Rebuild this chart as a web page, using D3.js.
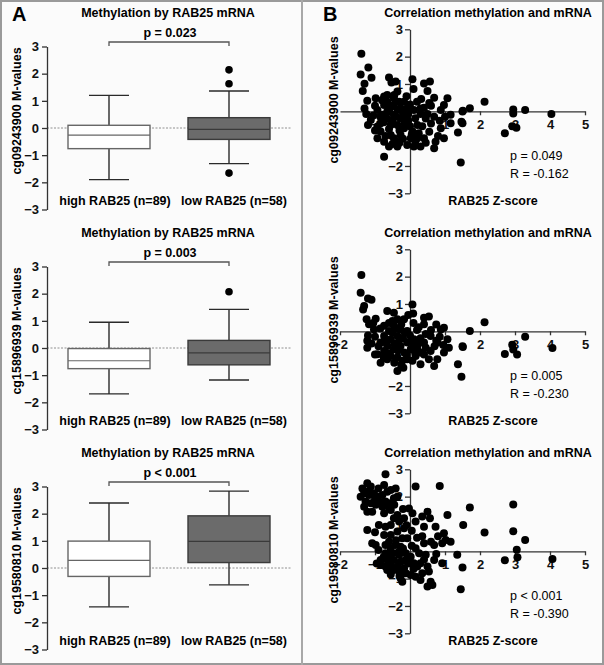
<!DOCTYPE html>
<html>
<head>
<meta charset="utf-8">
<script src="https://cdn.jsdelivr.net/npm/d3@7"></script>
<style>
  body { margin: 0; background: #fff; }
  svg text { font-family: "Liberation Sans", Arial, sans-serif; }
</style>
</head>
<body>
<div id="chart"></div>
<script>
// --- data ---
const groups = ["high RAB25 (n=89)", "low RAB25 (n=58)"];
const probes = ["cg09243900", "cg15896939", "cg19580810"];
const pTexts = ["p = 0.023", "p = 0.003", "p < 0.001"];
const corrP = ["p = 0.049", "p = 0.005", "p < 0.001"];
const corrR = ["R = -0.162", "R = -0.230", "R = -0.390"];

// [min, q1, median, q3, max] for high / low per probe
const boxHigh = [
  [-1.90, -0.76, -0.26, 0.10, 1.20],
  [-1.69, -0.76, -0.47, -0.02, 0.95],
  [-1.43, -0.31, 0.28, 0.99, 2.39]
];
const boxLow = [
  [-1.31, -0.42, -0.05, 0.38, 1.36],
  [-1.18, -0.62, -0.18, 0.28, 1.42],
  [-0.62, 0.20, 0.98, 1.92, 2.83]
];
const outliersLow = [[2.14, 1.63, -1.66], [2.07], []];

const yTicksBox = [-3, -2, -1, 0, 1, 2, 3];
const yTicksScatter = [-3, -2, -1, 1, 2, 3];
const xTicksFirst = [-1, 1, 2, 3, 4, 5];
const xTicks = [-2, -1, 1, 2, 3, 4, 5];

// RAB25 Z-score, M-value
const scatter1 = [
  [-1.39,2.11],[-1.19,1.60],[-1.41,1.35],[-1.10,1.23],[-1.30,1.01],[-1.35,0.74],[-0.60,1.24],[-0.53,1.05],
  [-0.41,1.09],[-0.36,0.72],[0.07,1.17],[0.10,0.82],[0.40,1.02],[0.57,1.09],[0.50,0.74],[0.69,0.50],
  [0.32,0.45],[1.07,0.48],[0.97,0.23],[0.88,0.05],[1.50,-0.01],[1.71,0.11],[1.47,-0.38],[1.37,-0.78],
  [1.45,-1.87],[-0.74,-1.66],[-1.22,0.39],[-0.98,0.48],[-0.74,0.54],[-1.12,-0.32],[-1.20,-0.50],[-0.93,-0.99],
  [-0.60,-1.29],[-0.36,-1.29],[0.30,-1.29],[0.69,-1.35],[0.73,-1.11],[0.97,-0.99],[0.88,-0.62],[1.16,-0.44],
  [1.16,-0.13],[0.40,-0.99],[0.21,-0.50],[0.45,-0.26],[0.69,-0.20],[0.11,0.05],[0.40,0.13],[-0.17,0.35],
  [-0.08,0.11],[-0.65,0.35],[-0.46,0.23],[-0.65,-0.01],[-0.46,-0.13],[-0.27,-0.26],[-0.55,-0.50],[-0.36,-0.50],
  [-0.17,-0.62],[-0.84,-0.74],[-0.55,-0.87],[-0.27,-0.87],[0.02,-0.99],[-0.74,-1.11],[-0.46,-0.99],[-0.08,-1.23],
  [-0.65,-0.26],[-0.79,-0.13],[-0.93,0.05],[-0.27,0.11],[-0.12,-0.26],[0.07,-0.74],[0.21,-0.99],[0.11,-1.29],
  [-0.93,-0.56],[-0.46,0.48],[-0.31,0.35],[-0.74,0.23],[-0.85,-0.20],[-0.50,-0.35],[-0.30,-0.70],[-0.15,-0.45],
  [0.00,-0.55],[-0.60,-0.65],[-0.40,-1.10],[-0.20,-1.00],[0.25,-0.80],[0.55,-0.75],[0.60,-0.45],[0.35,-0.55],
  [-0.05,-0.10],[-0.35,0.05],[-0.55,0.15],[-1.05,-0.15],[-0.75,-0.40],[0.15,-0.25],[0.85,-0.35],[1.00,-0.20],
  [-1.00,-0.70],[-0.10,0.55],[0.20,0.35],[1.51,0.02],[2.13,0.35],[1.50,-0.44],[2.71,-0.80],[2.95,0.07],
  [2.95,-0.08],[3.04,-0.60],[2.92,-0.55],[3.29,0.05],[4.04,-0.10],
  [-1.25,-0.10],[-1.00,0.20],[-0.80,0.40],[-0.60,0.00],[-0.40,-0.20],[-0.20,-0.10],[-0.05,-0.35],[0.05,-0.85],
  [0.30,-0.10],[0.50,-0.10],[-0.30,-1.15],[-0.50,-1.20],[-0.70,-0.90],[-0.85,-0.45],[0.30,0.10],[0.60,0.20],
  [0.80,-0.90],[0.45,-1.15],[0.15,-1.10],[-0.15,-0.15],[-0.45,0.60],[-0.65,0.60],[0.00,0.25],[0.55,0.30],
  [-1.30,0.10]
];
const scatter2 = [
  [-1.39,2.06],[-1.41,1.41],[-1.20,1.20],[-1.10,1.15],[-1.31,0.93],[-1.34,0.80],[0.07,0.98],[0.09,0.65],
  [-0.65,0.74],[-0.46,0.68],[-0.17,0.44],[-1.24,0.44],[-0.98,0.46],[-1.17,0.26],[-1.03,0.07],[-0.74,0.20],
  [0.40,0.50],[0.54,0.54],[0.40,0.26],[0.20,0.05],[0.88,0.07],[0.97,0.13],[1.07,-0.29],[1.11,-0.60],
  [0.97,-0.78],[1.71,0.01],[1.51,-0.57],[1.37,-1.21],[1.47,-1.66],[0.69,-1.27],[0.30,-1.21],[-0.36,-1.45],
  [-0.19,-1.33],[-0.84,-1.15],[-0.93,-0.84],[-1.22,-0.60],[-1.22,-0.35],[0.78,-1.02],[0.54,-1.02],[0.59,-0.72],
  [0.78,-0.41],[0.59,-0.17],[0.40,-0.41],[0.07,-1.08],[-0.08,-1.02],[-0.74,-0.17],[-0.55,-0.29],[-0.36,-0.17],
  [-0.65,-0.54],[-0.46,-0.66],[-0.27,-0.54],[-0.08,-0.41],[0.11,-0.29],[-0.55,-0.90],[-0.36,-0.96],[-0.17,-0.78],
  [0.02,-0.66],[0.21,-0.66],[-0.74,-0.72],[-0.84,-0.41],[-0.46,0.20],[-0.27,0.07],[-0.08,0.01],[-0.60,0.01],
  [0.30,-0.78],[0.16,-0.90],[-0.65,-1.02],[-0.22,-1.08],[-0.36,0.44],[-0.50,0.38],[-1.00,-0.20],[-0.90,-0.55],
  [-0.45,-0.45],[-0.20,-0.25],[0.00,-0.15],[0.25,-0.45],[0.45,-0.60],[0.70,-0.55],[0.85,-0.20],[-0.60,-0.80],
  [-0.10,-0.85],[0.10,-0.50],[-0.30,-0.30],[-0.70,-0.40],[-1.10,-0.45],[2.13,0.33],[2.71,-0.83],[2.92,-0.49],
  [2.95,-0.67],[3.06,-0.85],[3.29,-0.20],[4.07,-0.61],[1.50,-0.55],
  [-1.20,-0.15],[-1.05,0.30],[-0.85,0.10],[-0.60,0.30],[-0.40,0.10],[-0.15,-0.05],[0.05,-0.30],[0.30,-0.25],
  [0.45,-0.10],[0.60,0.05],[0.75,-0.35],[0.95,-0.50],[-0.25,-1.25],[-0.45,-1.15],[-0.75,-0.95],[-1.00,-0.85],
  [-0.50,-0.05],[-0.25,0.25],[0.10,0.30],[0.25,0.15],[0.75,0.25],[-0.35,-0.70],[0.15,-0.80],[0.40,-0.85],
  [-0.05,0.60]
];
const scatter3 = [
  [-0.70,2.82],[-1.36,2.30],[-1.22,2.49],[-1.12,2.37],[-1.31,2.12],[-1.41,2.00],[-1.17,2.06],[-1.03,2.12],
  [-0.93,2.00],[-1.27,1.82],[-1.12,1.76],[-1.31,1.63],[-0.98,1.70],[-1.22,1.45],[-1.08,1.45],[-0.74,2.43],
  [-0.65,2.18],[-0.79,2.06],[-0.55,2.24],[-0.41,2.30],[-0.36,2.00],[-0.46,1.94],[-0.70,1.82],[-0.60,1.76],
  [-0.79,1.63],[-0.55,1.51],[-0.74,1.39],[-0.36,1.33],[0.16,2.37],[0.85,2.39],[1.71,1.60],[-0.03,1.57],
  [0.07,1.39],[-0.17,1.21],[-0.31,1.09],[-0.46,1.21],[-0.55,0.96],[-0.89,0.96],[-0.70,0.90],[-1.22,0.78],
  [-0.74,0.60],[-0.55,0.60],[-0.36,0.72],[-0.17,0.84],[-0.08,0.48],[-0.22,0.48],[0.16,1.09],[0.35,1.27],
  [0.50,1.45],[0.57,1.21],[0.40,0.90],[0.73,0.90],[0.97,0.66],[1.07,1.33],[1.02,0.41],[1.16,0.35],
  [0.92,0.29],[0.69,0.23],[0.40,0.29],[0.16,0.11],[0.26,-0.07],[0.45,-0.13],[0.02,-0.20],[1.52,0.96],
  [1.35,-0.13],[-1.08,0.29],[-0.98,0.23],[-0.70,0.23],[-0.55,0.11],[-0.41,0.23],[-0.27,0.17],[-0.70,-0.07],
  [-0.50,-0.07],[-0.31,-0.13],[-0.12,-0.07],[-0.84,-0.32],[-0.65,-0.32],[-0.46,-0.32],[-0.27,-0.38],[-0.84,-0.50],
  [-0.70,-0.56],[-0.55,-0.50],[-0.36,-0.56],[-0.17,-0.62],[-0.65,-0.68],[-0.46,-0.68],[-0.12,-0.32],[0.11,-0.44],
  [0.30,-0.44],[0.21,-0.56],[0.50,-0.56],[0.54,-0.74],[0.69,-0.32],[0.92,-0.44],[1.50,-0.59],[1.45,-1.39],
  [-0.12,-0.80],[0.02,-0.87],[0.16,-0.93],[0.30,-1.05],[-0.22,-1.11],[-0.27,-0.99],[0.59,-1.11],[0.64,-1.23],
  [0.50,-1.29],[-0.60,-0.20],[-0.40,0.40],[-0.20,0.10],[-0.05,-0.45],[0.05,0.20],[-0.90,0.05],[-0.30,-0.75],
  [2.13,0.69],[2.95,1.71],[2.95,0.73],[3.29,0.41],[3.05,0.06],[3.07,-0.22],[2.71,-0.33],[4.07,-0.28],
  [-1.20,2.20],[-1.00,1.90],[-0.85,1.80],[-0.90,2.30],[-0.60,1.60],[-0.45,1.70],[-0.20,1.55],[-0.10,0.95],
  [0.05,0.75],[-1.00,0.70],[-0.60,0.35],[-0.35,-0.05],[-0.75,-0.20],[-0.95,-0.45],[-0.55,-0.85],[-0.30,-0.90],
  [0.20,0.50],[0.35,0.55],[0.60,0.35],[0.80,0.55],[0.40,-0.30],[0.75,-0.10],[0.10,-0.65],[0.35,-0.80],
  [-0.15,-0.35]
];
const scatters = [scatter1, scatter2, scatter3];

// --- layout ---
const width = 604, height = 665;
const panelTops = [0, 220, 440];

const svg = d3.select("#chart").append("svg")
  .attr("width", width)
  .attr("height", height);

svg.append("rect")
  .attr("x", 1).attr("y", 1)
  .attr("width", width - 2).attr("height", height - 2)
  .attr("fill", "#fbfbfb")
  .attr("stroke", "#9a9a9a")
  .attr("stroke-width", 2);

svg.append("line")
  .attr("x1", 302).attr("x2", 302)
  .attr("y1", 0).attr("y2", height)
  .attr("stroke", "#a8a8a8")
  .attr("stroke-width", 2);

svg.append("text").attr("x", 12).attr("y", 21)
  .style("font-size", "20px").style("font-weight", "bold").text("A");
svg.append("text").attr("x", 323).attr("y", 21)
  .style("font-size", "20px").style("font-weight", "bold").text("B");

function styleAxis(g) {
  g.selectAll("path").attr("stroke", "#333").attr("stroke-width", 1.3);
  g.selectAll("line").attr("stroke", "#333").attr("stroke-width", 1.3);
  g.selectAll("text")
    .attr("fill", "#111")
    .style("font-size", "13px")
    .style("font-weight", "bold")
    .style("font-family", "'Liberation Sans', Arial, sans-serif");
}

function drawBoxPanel(i) {
  const top = panelTops[i];
  const y = d3.scaleLinear().domain([-3, 3]).range([top + 209.5, top + 46.5]);
  const x = d3.scalePoint().domain(groups).range([109, 229]);
  const g = svg.append("g");

  g.append("text")
    .attr("x", 168).attr("y", top + 17)
    .attr("text-anchor", "middle")
    .style("font-size", "12.5px").style("font-weight", "bold")
    .text("Methylation by RAB25 mRNA");

  // dotted zero line
  g.append("line")
    .attr("x1", 47).attr("x2", 291)
    .attr("y1", y(0)).attr("y2", y(0))
    .attr("stroke", "#777").attr("stroke-width", 0.8)
    .attr("stroke-dasharray", "2,1.5");

  const ax = g.append("g")
    .attr("transform", "translate(47,0)")
    .call(d3.axisLeft(y).tickValues(yTicksBox).tickSize(5).tickSizeOuter(0).tickPadding(3).tickFormat(d3.format("d")));
  styleAxis(ax);

  // significance bracket
  const by = top + 42;
  g.append("path")
    .attr("d", `M${x(groups[0])},${by + 4}V${by}H${x(groups[1])}V${by + 4}`)
    .attr("fill", "none").attr("stroke", "#555").attr("stroke-width", 1.3);
  g.append("text")
    .attr("x", 170).attr("y", by - 5)
    .attr("text-anchor", "middle")
    .style("font-size", "12.5px").style("font-weight", "bold")
    .text(pTexts[i]);

  const half = 41, cap = 20;
  const boxes = [
    { name: groups[0], s: boxHigh[i], fill: "#ffffff", stroke: "#666" },
    { name: groups[1], s: boxLow[i], fill: "#6b6b6b", stroke: "#3a3a3a" }
  ];
  boxes.forEach(b => {
    const cx = x(b.name);
    const [mn, q1, md, q3, mx] = b.s;
    const wg = g.append("g").attr("stroke", "#2a2a2a").attr("stroke-width", 1.4);
    wg.append("line").attr("x1", cx).attr("x2", cx).attr("y1", y(mx)).attr("y2", y(q3));
    wg.append("line").attr("x1", cx).attr("x2", cx).attr("y1", y(q1)).attr("y2", y(mn));
    wg.append("line").attr("x1", cx - cap).attr("x2", cx + cap).attr("y1", y(mx)).attr("y2", y(mx));
    wg.append("line").attr("x1", cx - cap).attr("x2", cx + cap).attr("y1", y(mn)).attr("y2", y(mn));
    g.append("rect")
      .attr("x", cx - half).attr("y", y(q3))
      .attr("width", half * 2).attr("height", y(q1) - y(q3))
      .attr("fill", b.fill).attr("stroke", b.stroke).attr("stroke-width", 1.4);
    g.append("line")
      .attr("x1", cx - half).attr("x2", cx + half)
      .attr("y1", y(md)).attr("y2", y(md))
      .attr("stroke", b.stroke).attr("stroke-width", 1.2);
  });

  g.selectAll(".outlier")
    .data(outliersLow[i])
    .enter().append("circle")
    .attr("cx", x(groups[1]))
    .attr("cy", d => y(d))
    .attr("r", 3.8)
    .attr("fill", "#000");

  g.selectAll(".cat")
    .data(groups)
    .enter().append("text")
    .attr("x", (d, j) => x(d) + (j === 0 ? 6 : 5))
    .attr("y", top + 205)
    .attr("text-anchor", "middle")
    .style("font-size", "12.5px").style("font-weight", "bold")
    .text(d => d);

  g.append("text")
    .attr("transform", `translate(21,${top + 111}) rotate(-90)`)
    .attr("text-anchor", "middle")
    .style("font-size", "12.5px").style("font-weight", "bold")
    .text(probes[i] + " M-values");
}

function drawScatterPanel(i) {
  const top = panelTops[i];
  const x = d3.scaleLinear().domain([-2, 5]).range([340, 585]);
  const y = d3.scaleLinear().domain([-3, 3]).range([top + 193.3, top + 29.3]);
  const g = svg.append("g");

  g.append("text")
    .attr("x", 488).attr("y", top + 17)
    .attr("text-anchor", "middle")
    .style("font-size", "12.5px").style("font-weight", "bold")
    .text("Correlation methylation and mRNA");

  const ay = g.append("g")
    .attr("transform", `translate(${x(0)},0)`)
    .call(d3.axisLeft(y).tickValues(yTicksScatter).tickSize(5).tickSizeOuter(0).tickPadding(2).tickFormat(d3.format("d")));
  styleAxis(ay);

  const ax = g.append("g")
    .attr("transform", `translate(0,${y(0)})`)
    .call(d3.axisBottom(x).tickValues(i === 0 ? xTicksFirst : xTicks).tickSize(4).tickSizeOuter(0).tickPadding(4).tickFormat(d3.format("d")));
  styleAxis(ax);

  g.selectAll(".dot")
    .data(scatters[i])
    .enter().append("circle")
    .attr("cx", d => x(d[0]))
    .attr("cy", d => y(d[1]))
    .attr("r", 4)
    .attr("fill", "#000");

  g.append("text")
    .attr("x", 510).attr("y", top + 160)
    .style("font-size", "12.5px")
    .text(corrP[i]);
  g.append("text")
    .attr("x", 510).attr("y", top + 178)
    .style("font-size", "12.5px")
    .text(corrR[i]);

  g.append("text")
    .attr("x", 493).attr("y", top + 205)
    .attr("text-anchor", "middle")
    .style("font-size", "12.5px").style("font-weight", "bold")
    .text("RAB25 Z-score");

  g.append("text")
    .attr("transform", `translate(338,${top + 100}) rotate(-90)`)
    .attr("text-anchor", "middle")
    .style("font-size", "12.5px").style("font-weight", "bold")
    .text(probes[i] + " M-values");
}

probes.forEach((p, i) => {
  drawBoxPanel(i);
  drawScatterPanel(i);
});
</script>
</body>
</html>
